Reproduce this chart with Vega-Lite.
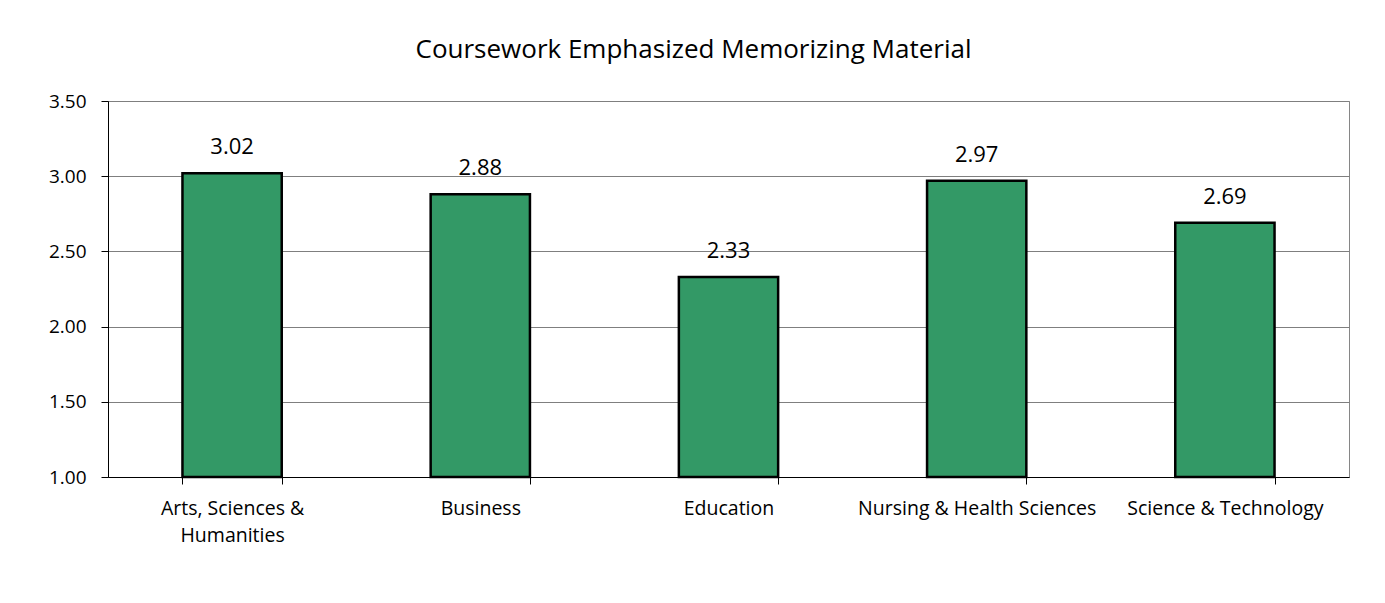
{
  "$schema": "https://vega.github.io/schema/vega-lite/v6.json",
  "width": 1241,
  "height": 376,
  "autosize": {"type": "none"},
  "padding": {"left": 108, "top": 101, "right": 36, "bottom": 126},
  "background": "#ffffff",
  "title": {
    "text": "Coursework Emphasized Memorizing Material",
    "font": "Open Sans",
    "fontSize": 26,
    "fontWeight": "normal",
    "color": "#000000",
    "anchor": "middle",
    "baseline": "alphabetic",
    "dx": -35,
    "offset": 8
  },
  "config": {
    "view": {"stroke": "#868686", "strokeWidth": 1},
    "axis": {"labelFont": "Open Sans", "labelColor": "#000000", "titleFont": "Open Sans"}
  },
  "data": {
    "values": [
      {"college": "Arts, Sciences & Humanities", "mean": 3.02},
      {"college": "Business", "mean": 2.88},
      {"college": "Education", "mean": 2.33},
      {"college": "Nursing & Health Sciences", "mean": 2.97},
      {"college": "Science & Technology", "mean": 2.69}
    ]
  },
  "encoding": {
    "x": {
      "field": "college",
      "type": "nominal",
      "sort": null,
      "scale": {"paddingInner": 0.6, "paddingOuter": 0.3},
      "axis": {
        "title": null,
        "labelAngle": 0,
        "labelFontSize": 19.5,
        "labelLimit": 400,
        "labelBaseline": "alphabetic",
        "labelPadding": 30,
        "labelLineHeight": 27,
        "labelExpr": "datum.label == 'Arts, Sciences & Humanities' ? ['Arts, Sciences &', 'Humanities'] : datum.label",
        "domainColor": "#000000",
        "tickColor": "#000000",
        "tickSize": 7,
        "tickBand": "extent"
      }
    },
    "y": {
      "field": "mean",
      "type": "quantitative",
      "scale": {"domain": [1, 3.5], "zero": false, "nice": false},
      "axis": {
        "title": null,
        "values": [1, 1.5, 2, 2.5, 3, 3.5],
        "format": ".2f",
        "labelFontSize": 19,
        "labelPadding": 15,
        "domainColor": "#000000",
        "tickColor": "#000000",
        "tickSize": 7,
        "grid": true,
        "gridColor": "#7f7f7f",
        "gridWidth": 1
      }
    }
  },
  "layer": [
    {
      "mark": {"type": "bar", "fill": "#339966", "stroke": "#000000", "strokeWidth": 2.5},
      "encoding": {"y2": {"datum": 1}}
    },
    {
      "mark": {"type": "text", "baseline": "alphabetic", "dy": -19, "font": "Open Sans", "fontSize": 22, "color": "#000000"},
      "encoding": {"text": {"field": "mean", "type": "quantitative", "format": ".2f"}}
    }
  ]
}
